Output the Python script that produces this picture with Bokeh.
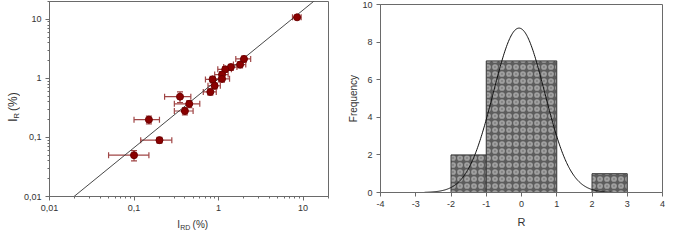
import numpy as np
from bokeh.plotting import figure
from bokeh.layouts import row, column
from bokeh.core.properties import value
from bokeh.models import (ColumnDataSource, Whisker, TeeHead,
                          CustomJSTickFormatter, LogTicker, SingleIntervalTicker)
from bokeh.embed import file_html
from bokeh.resources import INLINE

# ---------------- data: left panel (IR vs IRD, %) ----------------
ird = [8.5, 2.0, 1.8, 1.4, 1.2, 1.1, 1.1, 0.85, 0.9, 0.8, 0.35, 0.45, 0.40, 0.15, 0.20, 0.10]
ir = [10.8, 2.13, 1.71, 1.55, 1.42, 1.16, 0.98, 0.96, 0.75, 0.59, 0.49, 0.37, 0.28, 0.20, 0.09, 0.05]
ird_err = [1.0, 0.4, 0.3, 0.25, 0.22, 0.2, 0.25, 0.15, 0.15, 0.14, 0.12, 0.15, 0.10, 0.05, 0.08, 0.05]
ir_err = [0.5, 0.25, 0.2, 0.18, 0.16, 0.14, 0.12, 0.12, 0.09, 0.07, 0.1, 0.05, 0.04, 0.03, 0.01, 0.01]
fit_slope = 1.165
fit_log_intercept = -0.008
fit_x_ends = [0.01, 20.0]

# ---------------- data: right panel (histogram of R) ----------------
bin_left = [-2, -1, 2]
bin_right = [-1, 1, 3]
bin_count = [2, 7, 1]
norm_mean = -0.07
norm_sd = 0.73
norm_n = 16
norm_x_ends = [-2.75, 2.6]

FONT = "Liberation Sans"
AX = "#6a6a6a"
TXT = "#333333"


def label_fig(w, h):
    f = figure(width=w, height=h, x_range=(0, w), y_range=(0, h),
               output_backend="svg", toolbar_location=None,
               x_axis_location=None, y_axis_location=None,
               min_border=0, min_border_left=0, min_border_right=0,
               min_border_top=0, min_border_bottom=0)
    f.xgrid.visible = False
    f.ygrid.visible = False
    f.outline_line_color = None
    return f


def txt(f, x, y, s, size, angle=0.0):
    f.text(x=[x], y=[y], text=[s], angle=angle, text_font=value(FONT),
           text_font_size=value(size), text_color=TXT,
           text_align="left", text_baseline="alphabetic")


# ---------------- left figure ----------------
p1 = figure(width=310, height=214, x_axis_type="log", y_axis_type="log",
            x_range=(0.01, 20), y_range=(0.01, 20),
            output_backend="svg", toolbar_location=None,
            min_border_left=19, min_border_right=2, min_border_top=1, min_border_bottom=18)
p1.xgrid.visible = False
p1.ygrid.visible = False
p1.outline_line_color = AX
for ax in (p1.xaxis[0], p1.yaxis[0]):
    ax.ticker = LogTicker(desired_num_ticks=4, num_minor_ticks=10)
    ax.formatter = CustomJSTickFormatter(code="return tick.toString().replace('.', ',');")
    ax.axis_line_color = AX
    ax.major_tick_line_color = AX
    ax.minor_tick_line_color = AX
    ax.major_tick_in = 0
    ax.major_tick_out = 4
    ax.minor_tick_in = 0
    ax.minor_tick_out = 2
    ax.major_label_text_font = FONT
    ax.major_label_text_font_size = "9px"
    ax.major_label_text_color = TXT
    ax.major_label_standoff = 4

fx = np.array(fit_x_ends)
fy = 10 ** (fit_log_intercept + fit_slope * np.log10(fx))
p1.line(fx, fy, line_color="#333333", line_width=0.9)

src = ColumnDataSource(dict(
    x=ird, y=ir,
    xl=[a - e for a, e in zip(ird, ird_err)], xu=[a + e for a, e in zip(ird, ird_err)],
    yl=[a - e for a, e in zip(ir, ir_err)], yu=[a + e for a, e in zip(ir, ir_err)],
))
ERR = "#a04646"
for base, lo, hi, dim in (("y", "xl", "xu", "width"), ("x", "yl", "yu", "height")):
    p1.add_layout(Whisker(source=src, base=base, lower=lo, upper=hi, dimension=dim,
                          line_color=ERR, line_width=1.2,
                          upper_head=TeeHead(size=6, line_color=ERR, line_width=1.2),
                          lower_head=TeeHead(size=6, line_color=ERR, line_width=1.2)))
p1.scatter("x", "y", source=src, size=7, fill_color="#8b0000", line_color="#6e0000")

# axis titles with subscripts (separate text strips)
ylab = label_fig(20, 214)
txt(ylab, 12.5, 68, "I", "12px", np.pi / 2)
txt(ylab, 16, 71.8, "R", "8px", np.pi / 2)
txt(ylab, 12.5, 81.5, "(%)", "12px", np.pi / 2)

xlab = label_fig(310, 16)
txt(xlab, 142, 6, "I", "10px")
txt(xlab, 145.2, 3, "RD", "7px")
txt(xlab, 159, 6, "(%)", "10px")

# ---------------- right figure ----------------
p2 = figure(width=337, height=230, x_range=(-4, 4), y_range=(0, 10),
            output_backend="svg", toolbar_location=None,
            min_border_left=50, min_border_right=5, min_border_top=4, min_border_bottom=32)
p2.xgrid.visible = False
p2.ygrid.visible = False
p2.outline_line_color = AX
p2.xaxis.ticker = SingleIntervalTicker(interval=1, num_minor_ticks=0)
p2.yaxis.ticker = SingleIntervalTicker(interval=2, num_minor_ticks=0)
for ax in (p2.xaxis[0], p2.yaxis[0]):
    ax.formatter = CustomJSTickFormatter(code="return tick.toString();")
    ax.axis_line_color = AX
    ax.major_tick_line_color = AX
    ax.major_tick_in = 0
    ax.major_tick_out = 4
    ax.minor_tick_line_color = None
    ax.major_label_text_font = FONT
    ax.major_label_text_font_size = "9px"
    ax.major_label_text_color = TXT
    ax.major_label_standoff = 4
    ax.axis_label_text_font = FONT
    ax.axis_label_text_font_style = "normal"
    ax.axis_label_text_color = TXT
p2.xaxis.axis_label = "R"
p2.xaxis.axis_label_text_font_size = "11px"
p2.xaxis.axis_label_standoff = 6
p2.yaxis.axis_label = "Frequency"
p2.yaxis.axis_label_text_font_size = "10px"
p2.yaxis.axis_label_standoff = 0

p2.quad(left=bin_left, right=bin_right, bottom=0, top=bin_count,
        fill_color="#5c5c5c", hatch_pattern="ring", hatch_color="#a0a0a0",
        hatch_scale=7, hatch_weight=2.2, line_color="#3a3a3a", line_width=1)

cx = np.linspace(norm_x_ends[0], norm_x_ends[1], 300)
cy = norm_n / (norm_sd * np.sqrt(2 * np.pi)) * np.exp(-0.5 * ((cx - norm_mean) / norm_sd) ** 2)
p2.line(cx, cy, line_color="#111111", line_width=1)

layout = row(ylab, column(p1, xlab), p2)
open("out.html", "w").write(file_html(layout, INLINE))
